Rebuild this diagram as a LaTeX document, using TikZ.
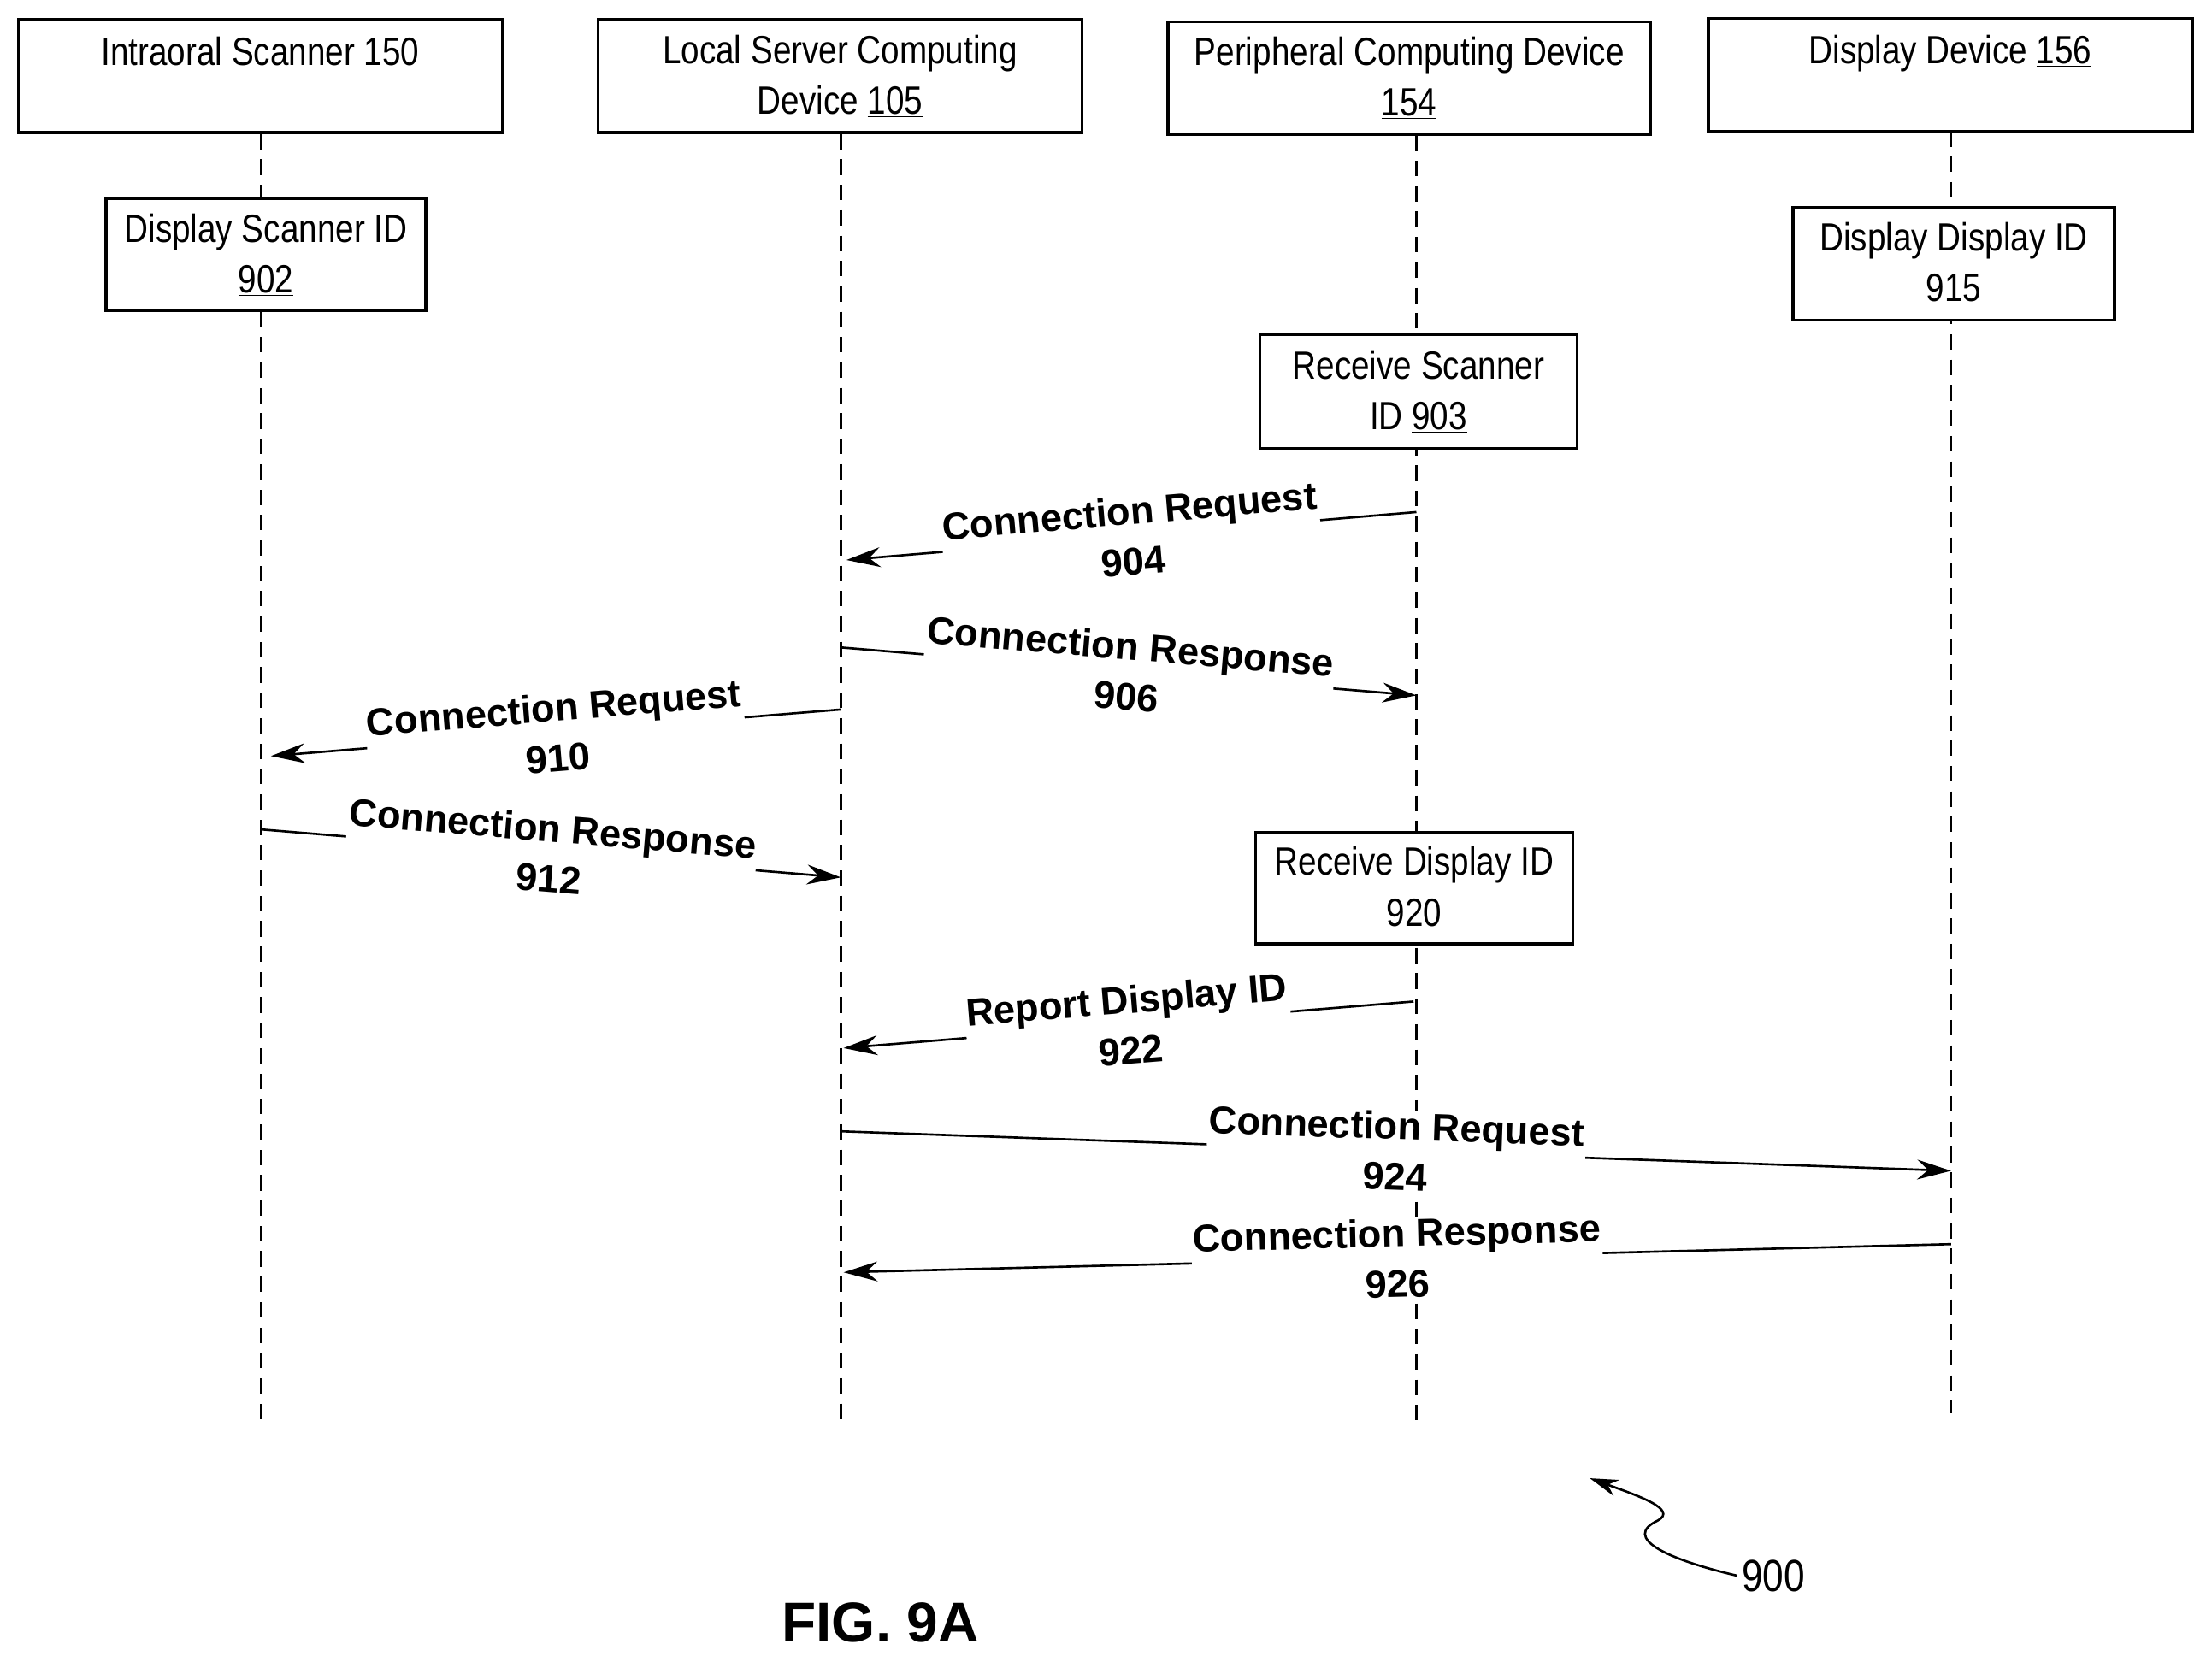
\documentclass[tikz,border=0pt]{standalone}
\usepackage{fontspec}
\setmainfont{Liberation Sans}
\newfontfamily\narrowf[FakeStretch=0.84]{Liberation Sans}
\usetikzlibrary{arrows.meta}
\begin{document}
\begin{tikzpicture}[x=1bp,y=-1bp,
  box/.style={draw,fill=white,line width=2.2bp,minimum height=80bp,align=center,font=\narrowf\fontsize{28}{36}\selectfont,inner sep=2bp},
  life/.style={line width=1.8bp,dash pattern=on 11bp off 7bp},
  msg/.style={line width=1.6bp,-{Stealth[length=24bp,width=14bp]}},
  lab/.style={fill=white,align=center,font=\bfseries\fontsize{27.5}{36}\selectfont,inner sep=1bp,sloped}]
\useasboundingbox (0,0) rectangle (1568,1178);
\draw[life] (185,95) coordinate (s0) -- (185,1012) coordinate (se);
\draw[life] (596,95) coordinate (l0) -- (596,1012) coordinate (le);
\draw[life] (1004,96) coordinate (p0) -- (1004,1007) coordinate (pe);
\draw[life] (1383,93) coordinate (d0) -- (1383,1002) coordinate (de);
\node[box,minimum width=343bp] (s) at (184.5,54) {Intraoral Scanner \underline{150}\\\mbox{}};
\node[box,minimum width=343bp] (l) at (595.5,54) {Local Server Computing\\Device \underline{105}};
\node[box,minimum width=342bp] (p) at (999,55.5) {Peripheral Computing Device\\\underline{154}};
\node[box,minimum width=343bp] (d) at (1382.5,53) {Display Device \underline{156}\\\mbox{}};
\node[box,minimum width=227bp,minimum height=79bp] (b902) at (188.5,180.5) {Display Scanner ID\\\underline{902}};
\node[box,minimum width=228bp,minimum height=80bp] (b915) at (1385,187) {Display Display ID\\\underline{915}};
\node[box,minimum width=225bp,minimum height=81bp] (b903) at (1005.5,277.5) {Receive Scanner\\ID \underline{903}};
\node[box,minimum width=225bp,minimum height=79bp] (b920) at (1002.5,629.5) {Receive Display ID\\\underline{920}};
\coordinate (a1) at (1004,363); \coordinate (a2) at (600,397);
\coordinate (b1) at (596,459); \coordinate (b2) at (1004,493);
\coordinate (c1) at (596,503); \coordinate (c2) at (192,536);
\coordinate (d1) at (185,588); \coordinate (d2) at (596,622);
\coordinate (e1) at (1002,710); \coordinate (e2) at (598,743);
\coordinate (f1) at (596,802); \coordinate (f2) at (1383,830);
\coordinate (g1) at (1383,882); \coordinate (g2) at (598,902);
\draw[msg] (a1) -- node[lab,pos=0.5] {Connection Request\\904} (a2);
\draw[msg] (b1) -- node[lab,pos=0.5] {Connection Response\\906} (b2);
\draw[msg] (c1) -- node[lab,pos=0.5] {Connection Request\\910} (c2);
\draw[msg] (d1) -- node[lab,pos=0.5] {Connection Response\\912} (d2);
\draw[msg] (e1) -- node[lab,pos=0.5] {Report Display ID\\922} (e2);
\draw[msg] (f1) -- node[lab,pos=0.5] {Connection Request\\924} (f2);
\draw[msg] (g1) -- node[lab,pos=0.5] {Connection Response\\926} (g2);
\node[font=\narrowf\fontsize{32}{36}\selectfont] (n900) at (1257,1117) {900};
\coordinate (q) at (1127,1048);
\draw[line width=1.6bp,-{Stealth[length=20bp,width=12bp]}] (n900.west) .. controls (1180,1105) and (1150,1090) .. (1175,1078) .. controls (1190,1070) and (1160,1060) .. (q);
\node[font=\bfseries\fontsize{40}{44}\selectfont] (fig) at (624,1150) {FIG. 9A};
\end{tikzpicture}
\end{document}
